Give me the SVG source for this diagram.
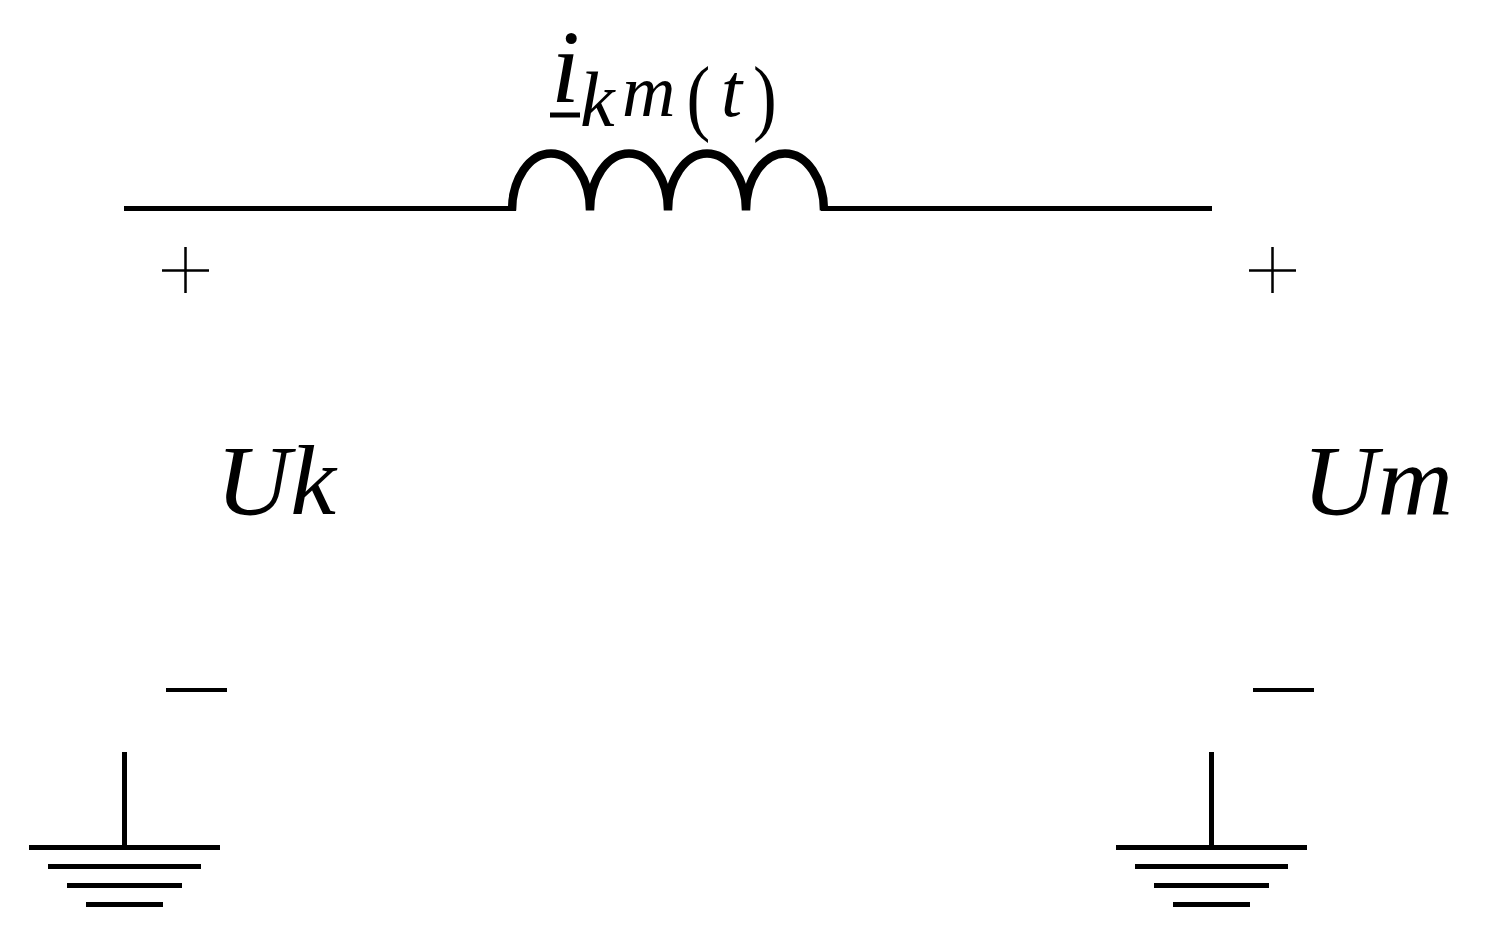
<svg xmlns="http://www.w3.org/2000/svg" width="1492" height="944" viewBox="0 0 1492 944">
<style>
.w{fill:none;stroke:#000;stroke-width:5}
.c{fill:none;stroke:#000;stroke-width:8.5}
.g{fill:none;stroke:#000;stroke-width:5}
.p{fill:none;stroke:#000;stroke-width:2.5}
.m{fill:none;stroke:#000;stroke-width:4}
.t{font-family:"Liberation Serif",serif;font-style:italic;fill:#000}
.n{font-family:"Liberation Serif",serif;fill:#000}
</style>
<rect width="1492" height="944" fill="#fff"/>
<g id="connectors">
<path class="w" d="M124 208.5H516"/>
<path class="w" d="M821 208.5H1212"/>
</g>
<g id="inductor">
<path class="c" d="M512 210.5A39 57 0 0 1 590 210.5A39 57 0 0 1 668 210.5A39 57 0 0 1 746 210.5A39 57 0 0 1 824 210.5"/>
</g>
<g id="ground-left">
<path class="g" d="M124.5 752V847.5M29 847.5H220M48 866.5H201M67 885.5H182M86 904.5H163"/>
</g>
<g id="ground-right">
<path class="g" d="M1211.5 752V847.5M1116 847.5H1307M1135 866.5H1288M1154 885.5H1269M1173 904.5H1250"/>
</g>
<g id="labels">
<text class="t" x="551" y="102" font-size="104">i</text>
<path class="g" d="M550 115H580"/>
<text class="t" x="580" y="126" font-size="78">k</text>
<text class="t" x="622" y="116" font-size="74">m</text>
<text class="n" transform="translate(686.6 125) scale(.85 1)" font-size="84">(</text>
<text class="t" x="721" y="116" font-size="76">t</text>
<text class="n" transform="translate(753 125) scale(.85 1)" font-size="84">)</text>
<path class="p" d="M162 270.5H209M185.5 247V293M1249 270.5H1296M1272.5 247V293"/>
<path class="m" d="M166 690H227M1253 690H1314"/>
<text class="t" x="216" y="514" font-size="100" textLength="120" lengthAdjust="spacingAndGlyphs">Uk</text>
<text class="t" x="1302" y="514" font-size="100" textLength="151" lengthAdjust="spacingAndGlyphs">Um</text>
</g>
</svg>
